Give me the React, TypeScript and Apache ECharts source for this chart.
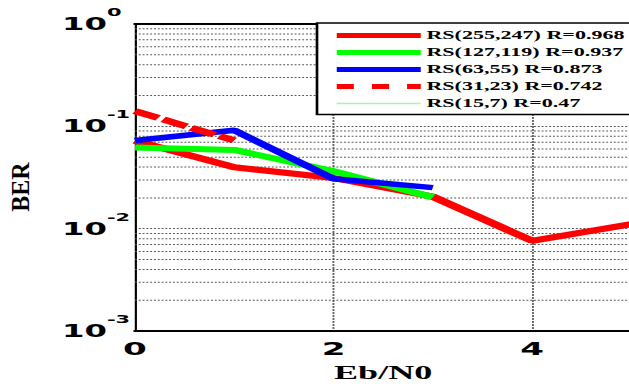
import React, { useEffect, useRef } from "react";
import * as echarts from "echarts";

// horizontal stretch of the whole figure (the reference is stretched sideways)
const K = 1.9;

const X_VALUES = [0, 1, 2, 3, 4, 5];
const RS255 = [0.0724, 0.0399, 0.0313, 0.0206, 0.00762, 0.0111];
const RS127 = [0.062, 0.0589, 0.0365, 0.0203];
const RS63 = [0.0728, 0.0916, 0.0308, 0.0252];
const RS31 = [0.141, 0.0728];
const RS15: number[] = [];

const NAMES = [
  "RS(255,247) R=0.968",
  "RS(127,119) R=0.937",
  "RS(63,55) R=0.873",
  "RS(31,23) R=0.742",
  "RS(15,7) R=0.47",
];

const X_RANGE = [0, 5];
const Y_DECADES = [0.001, 0.01, 0.1];
const MINOR_MULTIPLIERS = [2, 3, 4, 5, 6, 7, 8, 9];

const toPairs = (vals: number[]) => vals.map((v, i) => [X_VALUES[i], v]);

export default function App() {
  const ref = useRef<HTMLDivElement>(null);
  useEffect(() => {
    if (!ref.current) return;
    const chart = echarts.init(ref.current, null, { renderer: "svg" });
    const W = 640 / K;
    const left = 135 / K;
    const right = W - 631 / K;
    const gridStyle = { color: "#555", width: 1, type: [1, 1] as any };
    const minorSeries: any[] = [];
    Y_DECADES.forEach((d) =>
      MINOR_MULTIPLIERS.forEach((m) => {
        const v = +(d * m).toPrecision(3);
        minorSeries.push({
          type: "line",
          name: "grid" + v,
          data: [
            [X_RANGE[0], v],
            [X_RANGE[1], v],
          ],
          symbol: "none",
          showSymbol: false,
          silent: true,
          z: 1,
          lineStyle: gridStyle,
          color: "#555",
        });
      })
    );
    const lineBase = { symbol: "none", showSymbol: false, xAxisIndex: 0, z: 3 };
    chart.setOption({
      animation: false,
      backgroundColor: "#fff",
      grid: { left, right, top: 24, bottom: 50, show: false },
      xAxis: [
        {
          type: "value",
          min: X_RANGE[0],
          max: X_RANGE[1],
          interval: 2,
          position: "bottom",
          axisLine: { show: true, lineStyle: { color: "#000", width: 2 } },
          axisTick: { show: false },
          axisLabel: {
            color: "#000",
            fontFamily: "DejaVu Sans",
            fontWeight: "bold",
            fontSize: 18,
            margin: 9,
            showMaxLabel: false,
          },
          splitLine: { show: true, lineStyle: { color: "#666", width: 1, type: [2, 1] } },
          name: "Eb/N0",
          nameLocation: "middle",
          nameGap: 40,
          nameTextStyle: {
            color: "#000",
            fontFamily: "Liberation Serif",
            fontWeight: "bold",
            fontSize: 19,
            verticalAlign: "middle",
          },
        },
        {
          type: "value",
          min: X_RANGE[0],
          max: X_RANGE[1],
          position: "top",
          axisLine: { show: true, lineStyle: { color: "#000", width: 2 } },
          axisTick: { show: false },
          axisLabel: { show: false },
          splitLine: { show: false },
        },
      ],
      yAxis: {
        type: "log",
        logBase: 10,
        min: 0.001,
        max: 1,
        axisLine: { show: true, lineStyle: { color: "#000", width: 1.1 } },
        axisTick: { show: false },
        splitLine: { show: true, lineStyle: gridStyle },
        axisLabel: {
          align: "left",
          margin: 135 / K - 62 / K,
          formatter: (v: number) => `{b|10}{s|${Math.round(Math.log10(v))}}`,
          rich: {
            b: {
              fontFamily: "DejaVu Sans",
              fontWeight: "bold",
              fontSize: 17,
              lineHeight: 17,
              color: "#000",
            },
            s: {
              fontFamily: "DejaVu Sans",
              fontWeight: "bold",
              fontSize: 11,
              lineHeight: 11,
              padding: [0, 0, 24, 0],
              color: "#000",
            },
          },
        },
      },
      legend: {
        orient: "vertical",
        left: 317 / K,
        top: 23,
        z: 10,
        itemWidth: 84 / K,
        itemHeight: 14,
        itemGap: 5,
        padding: [6.5, 14, 5, 15 / K],
        backgroundColor: "#fff",
        borderColor: "#000",
        borderWidth: 1.4,
        selectedMode: false,
        itemStyle: { opacity: 0, color: "rgba(0,0,0,0)", borderColor: "rgba(0,0,0,0)", borderWidth: 0 },
        textStyle: {
          color: "#000",
          fontFamily: "Liberation Serif",
          fontWeight: "bold",
          fontSize: 11.6,
          padding: [0, 0, 0, -2],
        },
        data: [
          { name: NAMES[0], lineStyle: { width: 5 } },
          { name: NAMES[1], lineStyle: { width: 5 } },
          { name: NAMES[2], lineStyle: { width: 5 } },
          { name: NAMES[3], lineStyle: { type: [9, 9.5], width: 5 } },
          { name: NAMES[4], lineStyle: { width: 1.5 } },
        ],
      },
      graphic: [
        {
          type: "text",
          x: 20.5 / K,
          y: 187,
          rotation: Math.PI / 2,
          scaleX: 1,
          scaleY: 0.55,
          style: {
            text: "BER",
            fontFamily: "Liberation Serif",
            fontWeight: "bold",
            fontSize: 24,
            fill: "#000",
            align: "center",
            verticalAlign: "middle",
          },
        },
      ],
      series: [
        ...minorSeries,
        {
          ...lineBase,
          type: "line",
          name: NAMES[0],
          data: toPairs(RS255),
          color: "#ff0000",
          lineStyle: { color: "#ff0000", width: 6 },
        },
        {
          ...lineBase,
          type: "line",
          name: NAMES[1],
          data: toPairs(RS127),
          color: "#00ff00",
          lineStyle: { color: "#00ff00", width: 6 },
        },
        {
          ...lineBase,
          type: "line",
          name: NAMES[2],
          data: toPairs(RS63),
          color: "#0000ff",
          lineStyle: { color: "#0000ff", width: 5.5 },
        },
        {
          ...lineBase,
          type: "line",
          name: NAMES[3],
          data: toPairs(RS31),
          color: "#ff0000",
          lineStyle: { color: "#ff0000", width: 6, type: [14, 3] },
        },
        {
          ...lineBase,
          type: "line",
          name: NAMES[4],
          data: toPairs(RS15),
          color: "#b0f0b0",
          lineStyle: { color: "#b0f0b0", width: 1.5 },
        },
      ],
    });
    return () => chart.dispose();
  }, []);
  return (
    <div
      ref={ref}
      style={{
        position: "fixed",
        left: 0,
        top: 0,
        width: 640 / K,
        height: 387,
        transform: `scaleX(${K})`,
        transformOrigin: "0 0",
      }}
    />
  );
}
